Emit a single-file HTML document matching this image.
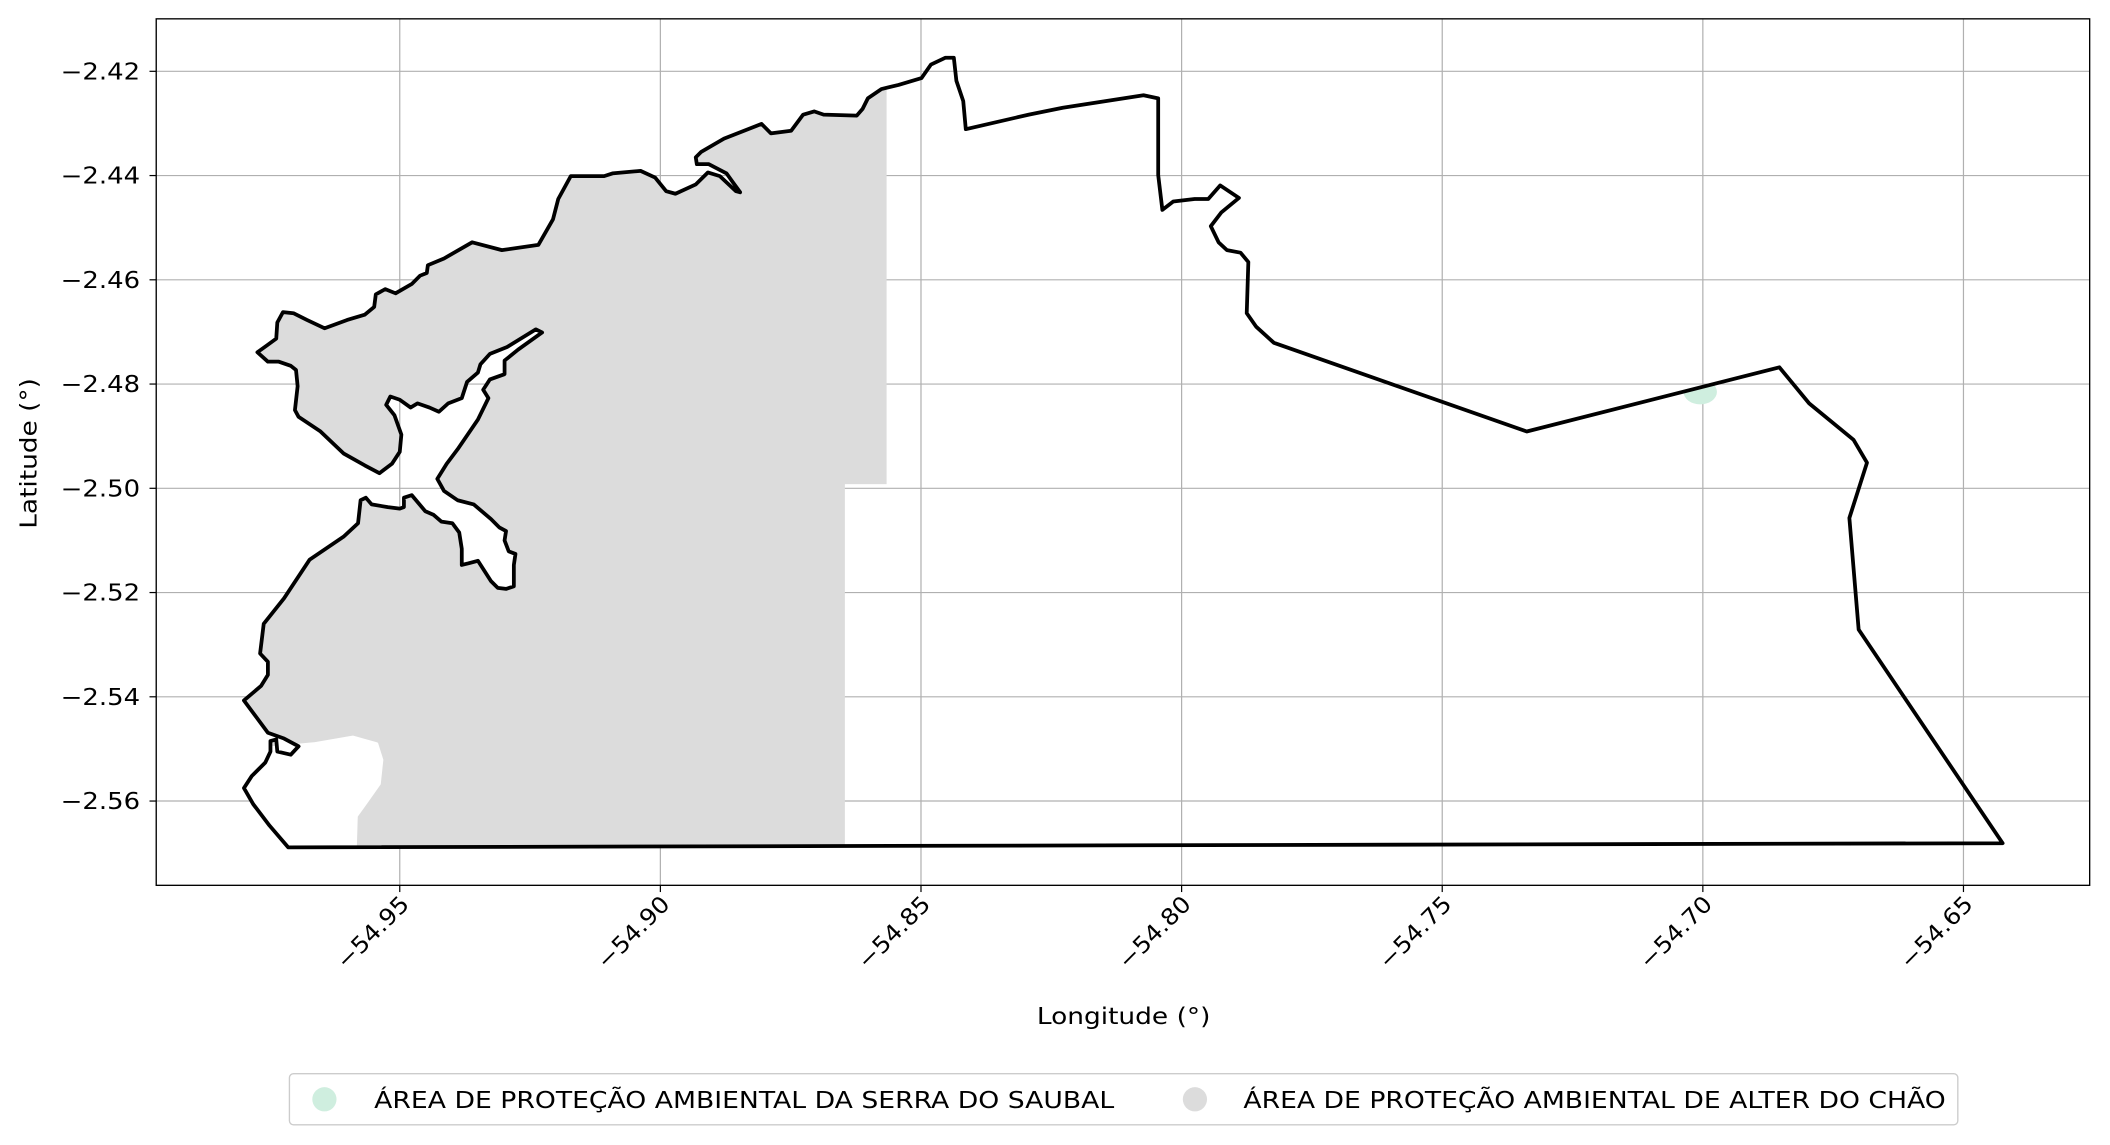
<!DOCTYPE html>
<html><head><meta charset="utf-8">
<style>html,body{margin:0;padding:0;background:#fff}svg{display:block}text{font-family:"DejaVu Sans","Liberation Sans",sans-serif;fill:#000}</style>
</head><body>
<svg id="chart" width="2110" height="1145" viewBox="0 0 1568 851" xmlns="http://www.w3.org/2000/svg">
<defs><clipPath id="outlineClip"><path id="clipPathShape"/></clipPath>
<clipPath id="frameClip"><rect x="116" y="14" width="1437" height="644"/></clipPath></defs>
<g id="grid"></g>
<g clip-path="url(#frameClip)">
<g clip-path="url(#outlineClip)" id="fills"></g>
<path id="outline" fill="none" stroke="#000" stroke-width="2.8" stroke-linejoin="round"/>
</g>
<rect x="116" y="14" width="1437" height="644" fill="none" stroke="#000" stroke-width="1"/>
<g id="ticks"></g>
<text x="835" y="761" font-size="17" text-anchor="middle" textLength="129" lengthAdjust="spacingAndGlyphs">Longitude (°)</text>
<text x="27" y="337" font-size="17" text-anchor="middle" textLength="112" lengthAdjust="spacingAndGlyphs" transform="rotate(-90 27 337)">Latitude (°)</text>
<g>
<rect x="215" y="798" width="1240" height="38" rx="3" fill="#fff" stroke="#ccc" stroke-width="1"/>
<g>
<circle cx="241" cy="817" r="9" fill="#cfeedf"/>
<text x="278" y="823.5" font-size="17.5" textLength="550" lengthAdjust="spacingAndGlyphs">ÁREA DE PROTEÇÃO AMBIENTAL DA SERRA DO SAUBAL</text></g>
<g>
<circle cx="888" cy="817" r="9" fill="#dcdcdc"/>
<text x="924" y="823.5" font-size="17.5" textLength="522" lengthAdjust="spacingAndGlyphs">ÁREA DE PROTEÇÃO AMBIENTAL DE ALTER DO CHÃO</text></g>
</g>
</svg>
<script>
const xTicks=[-54.95,-54.90,-54.85,-54.80,-54.75,-54.70,-54.65];
const yTicks=[-2.42,-2.44,-2.46,-2.48,-2.50,-2.52,-2.54,-2.56];
const outlineLon=[-54.8576,-54.8543,-54.8499,-54.8481,-54.8453,-54.8437,-54.8432,-54.8419,-54.8414,-54.8293,-54.8228,-54.8073,-54.8045,-54.8045,-54.8037,-54.8016,-54.7975,-54.7949,-54.7926,-54.7890,-54.7924,-54.7944,-54.7929,-54.7913,-54.7887,-54.7872,-54.7875,-54.7857,-54.7823,-54.7338,-54.6853,-54.6796,-54.6711,-54.6685,-54.6719,-54.6701,-54.6425,-54.9714,-54.9750,-54.9781,-54.9799,-54.9784,-54.9758,-54.9748,-54.9748,-54.9737,-54.9735,-54.9709,-54.9694,-54.9722,-54.9753,-54.9799,-54.9766,-54.9753,-54.9753,-54.9768,-54.9761,-54.9722,-54.9673,-54.9608,-54.9580,-54.9575,-54.9565,-54.9554,-54.9523,-54.9500,-54.9492,-54.9492,-54.9477,-54.9451,-54.9435,-54.9420,-54.9399,-54.9386,-54.9381,-54.9381,-54.9368,-54.9350,-54.9325,-54.9312,-54.9296,-54.9281,-54.9281,-54.9278,-54.9291,-54.9299,-54.9296,-54.9309,-54.9325,-54.9358,-54.9389,-54.9415,-54.9428,-54.9410,-54.9389,-54.9350,-54.9330,-54.9340,-54.9327,-54.9299,-54.9299,-54.9273,-54.9227,-54.9239,-54.9294,-54.9327,-54.9345,-54.9350,-54.9371,-54.9381,-54.9407,-54.9425,-54.9443,-54.9466,-54.9479,-54.9500,-54.9518,-54.9526,-54.9510,-54.9497,-54.9500,-54.9515,-54.9539,-54.9567,-54.9608,-54.9652,-54.9694,-54.9701,-54.9696,-54.9699,-54.9709,-54.9732,-54.9753,-54.9773,-54.9755,-54.9737,-54.9735,-54.9724,-54.9704,-54.9678,-54.9644,-54.9601,-54.9567,-54.9549,-54.9546,-54.9528,-54.9508,-54.9477,-54.9461,-54.9448,-54.9446,-54.9415,-54.9361,-54.9304,-54.9234,-54.9206,-54.9196,-54.9172,-54.9108,-54.9092,-54.9038,-54.9010,-54.8989,-54.8971,-54.8932,-54.8909,-54.8886,-54.8855,-54.8847,-54.8860,-54.8873,-54.8907,-54.8930,-54.8932,-54.8922,-54.8878,-54.8806,-54.8788,-54.8749,-54.8726,-54.8705,-54.8687,-54.8623,-54.8612,-54.8602];
const outlineLat=[-2.4234,-2.4226,-2.4213,-2.4187,-2.4174,-2.4174,-2.4218,-2.4257,-2.4311,-2.4283,-2.4270,-2.4246,-2.4252,-2.4399,-2.4466,-2.4450,-2.4445,-2.4445,-2.4419,-2.4443,-2.4471,-2.4497,-2.4528,-2.4543,-2.4548,-2.4566,-2.4664,-2.4690,-2.4721,-2.4891,-2.4768,-2.4837,-2.4907,-2.4951,-2.5057,-2.5271,-2.5681,-2.5689,-2.5647,-2.5606,-2.5575,-2.5552,-2.5526,-2.5505,-2.5485,-2.5482,-2.5505,-2.5511,-2.5495,-2.5480,-2.5469,-2.5407,-2.5379,-2.5358,-2.5333,-2.5317,-2.5260,-2.5211,-2.5137,-2.5093,-2.5067,-2.5023,-2.5018,-2.5031,-2.5036,-2.5039,-2.5036,-2.5018,-2.5013,-2.5044,-2.5051,-2.5064,-2.5067,-2.5085,-2.5116,-2.5147,-2.5144,-2.5139,-2.5178,-2.5191,-2.5193,-2.5188,-2.5147,-2.5126,-2.5121,-2.5100,-2.5082,-2.5075,-2.5059,-2.5031,-2.5023,-2.5005,-2.4982,-2.4953,-2.4925,-2.4868,-2.4827,-2.4811,-2.4791,-2.4781,-2.4755,-2.4734,-2.4701,-2.4695,-2.4729,-2.4742,-2.4762,-2.4778,-2.4796,-2.4827,-2.4837,-2.4853,-2.4845,-2.4837,-2.4845,-2.4830,-2.4824,-2.4840,-2.4860,-2.4897,-2.4930,-2.4953,-2.4971,-2.4956,-2.4933,-2.4891,-2.4863,-2.4850,-2.4804,-2.4773,-2.4765,-2.4757,-2.4757,-2.4739,-2.4726,-2.4713,-2.4682,-2.4662,-2.4664,-2.4677,-2.4693,-2.4677,-2.4667,-2.4652,-2.4628,-2.4618,-2.4626,-2.4608,-2.4592,-2.4587,-2.4572,-2.4559,-2.4528,-2.4543,-2.4533,-2.4484,-2.4445,-2.4401,-2.4401,-2.4396,-2.4391,-2.4404,-2.4430,-2.4435,-2.4417,-2.4394,-2.4401,-2.4430,-2.4432,-2.4414,-2.4396,-2.4378,-2.4378,-2.4365,-2.4355,-2.4329,-2.4301,-2.4319,-2.4314,-2.4283,-2.4277,-2.4283,-2.4285,-2.4272,-2.4252];
const alterEastLonNorth=-54.8566, alterSplitLat=-2.4992, alterEastLonSouth=-54.8646;
const holeLon=[-54.9810,-54.9665,-54.9590,-54.9544,-54.9534,-54.9539,-54.9565,-54.9583,-54.9585,-54.9810];
const holeLat=[-2.5503,-2.5490,-2.5477,-2.5490,-2.5521,-2.5567,-2.5604,-2.5629,-2.5689,-2.5714];
const saubalLon=-54.7005, saubalLat=-2.4815, saubalRadiusDeg=0.0032;

const X=lon=>297+(lon+54.95)*3874;
const Y=lat=>53+(-2.42-lat)*3874;
const NS='http://www.w3.org/2000/svg';
function mk(tag,attrs,parent){const e=document.createElementNS(NS,tag);for(const k in attrs)e.setAttribute(k,attrs[k]);parent.appendChild(e);return e;}
const grid=document.getElementById('grid'),ticksG=document.getElementById('ticks');
xTicks.forEach(v=>{
 const gl=mk('line',{x1:X(v),x2:X(v),y1:14,y2:658,stroke:'#b0b0b0','stroke-width':0.9},grid);
 
 
 const t=mk('line',{x1:X(v),x2:X(v),y1:658,y2:663,stroke:'#000','stroke-width':0.9},ticksG);
 
 
 const ax=X(v)+8, ay=673;
 const tx=mk('text',{x:ax,y:ay,'font-size':17,'text-anchor':'end',textLength:68,lengthAdjust:'spacingAndGlyphs',transform:`rotate(-45 ${ax} ${ay})`},ticksG);
 tx.textContent=v.toFixed(2).replace('-','\u2212');
 
 
});
yTicks.forEach(v=>{
 const gl=mk('line',{x1:116,x2:1553,y1:Y(v),y2:Y(v),stroke:'#b0b0b0','stroke-width':0.9},grid);
 
 
 const t=mk('line',{x1:111,x2:116,y1:Y(v),y2:Y(v),stroke:'#000','stroke-width':0.9},ticksG);
 
 
 const tx=mk('text',{x:104,y:Y(v)+6,'font-size':17,'text-anchor':'end',textLength:59,lengthAdjust:'spacingAndGlyphs'},ticksG);
 tx.textContent=v.toFixed(2).replace('-','\u2212');
 
 
});
let d='';
outlineLon.forEach((lon,i)=>{d+=(i?'L':'M')+X(lon).toFixed(1)+','+Y(outlineLat[i]).toFixed(1);});
d+='Z';
document.getElementById('outline').setAttribute('d',d);
document.getElementById('clipPathShape').setAttribute('d',d);
const fills=document.getElementById('fills');
const fLeft=116, fTop=14, fBottom=Y(-2.5689)+3;
const alter=mk('path',{d:`M${fLeft},${fTop}L${X(alterEastLonNorth)},${fTop}L${X(alterEastLonNorth)},${Y(alterSplitLat)}L${X(alterEastLonSouth)},${Y(alterSplitLat)}L${X(alterEastLonSouth)},${fBottom}L${fLeft},${fBottom}Z`,fill:'#dcdcdc'},fills);


let hd='';holeLon.forEach((lon,i)=>{hd+=(i?'L':'M')+X(lon).toFixed(1)+','+Y(holeLat[i]).toFixed(1);});hd+='Z';
const hole=mk('path',{d:hd,fill:'#fff','stroke':'#fff','stroke-width':2,'stroke-linejoin':'round'},fills);


const sb=mk('ellipse',{cx:X(saubalLon),cy:Y(saubalLat),rx:saubalRadiusDeg*3874,ry:saubalRadiusDeg*3874*0.75,fill:'#cfeedf'},fills);


</script>
</body></html>
